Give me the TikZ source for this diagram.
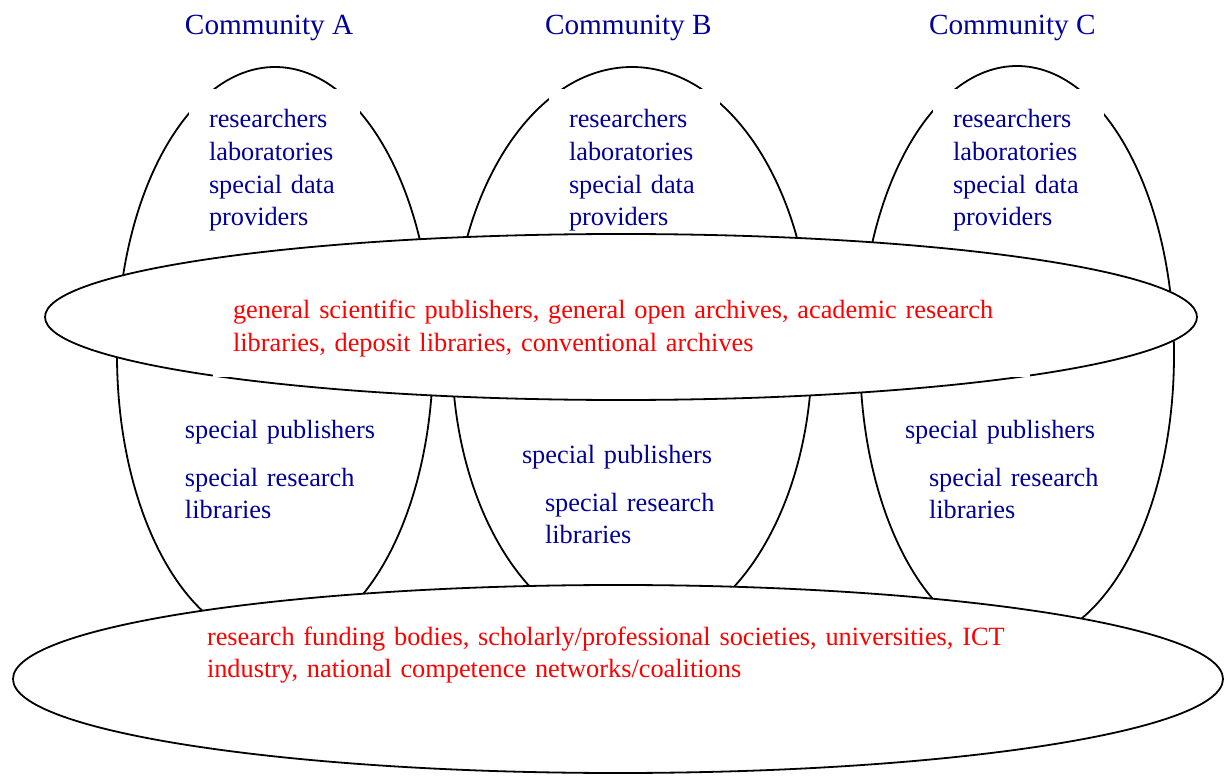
\documentclass[tikz,border=0pt]{standalone}
\usepackage{fontspec}
\setmainfont{Liberation Serif}
\usepackage{tikz}
\definecolor{commblue}{rgb}{0,0,0.6}

\begin{document}
\begin{tikzpicture}[x=0.4444pt, y=0.4444pt, line width=0.8pt,
every node/.style={anchor=text, inner sep=0pt, font=\fontsize{11.7}{14.5}\selectfont, align=left},
local/.style={text=commblue, text width=90pt},
topbox/.style={local, fill=white, inner sep=9pt, text width=58pt},
shared/.style={text=red, text width=400pt}]
\useasboundingbox (0,0) rectangle (1226,777);

% the three communities
\draw (275,422) ellipse [x radius=158, y radius=288];
\draw (632,425) ellipse [x radius=180, y radius=285];
\draw (1017,422) ellipse [x radius=157, y radius=289];

\node[text=commblue, font=\fontsize{13}{15}\selectfont] (commA) at (185,742) {Community A};
\node[text=commblue, font=\fontsize{13}{15}\selectfont] (commB) at (545,742) {Community B};
\node[text=commblue, font=\fontsize{13}{15}\selectfont] (commC) at (929,742) {Community C};

% who sits on top of each community
\node[topbox] (topA) at (209,649) {researchers\\laboratories\\special data\\providers};
\node[topbox] (topB) at (569,649) {researchers\\laboratories\\special data\\providers};
\node[topbox] (topC) at (953,649) {researchers\\laboratories\\special data\\providers};

% layer shared by all communities
\draw[fill=white] (621,460) ellipse [x radius=576, y radius=83];
\node[shared, fill=white, inner sep=9pt, text width=345pt] (general) at (233,458)
  {general scientific publishers, general open archives, academic research\\libraries, deposit libraries, conventional archives};

% funding and policy layer
\draw[fill=white] (618,98) ellipse [x radius=605, y radius=94];
\node[shared] (funding) at (207,132)
  {research funding bodies, scholarly/professional societies, universities, ICT\\industry, national competence networks/coalitions};

% special publishers and libraries per community
\node[local] (pubA) at (185,338) {special publishers};
\node[local] (resA) at (185,291) {special research\\libraries};
\node[local] (pubB) at (522,314) {special publishers};
\node[local] (resB) at (545,266) {special research\\libraries};
\node[local] (pubC) at (905,338) {special publishers};
\node[local] (resC) at (929,291) {special research\\libraries};
\end{tikzpicture}
\end{document}
